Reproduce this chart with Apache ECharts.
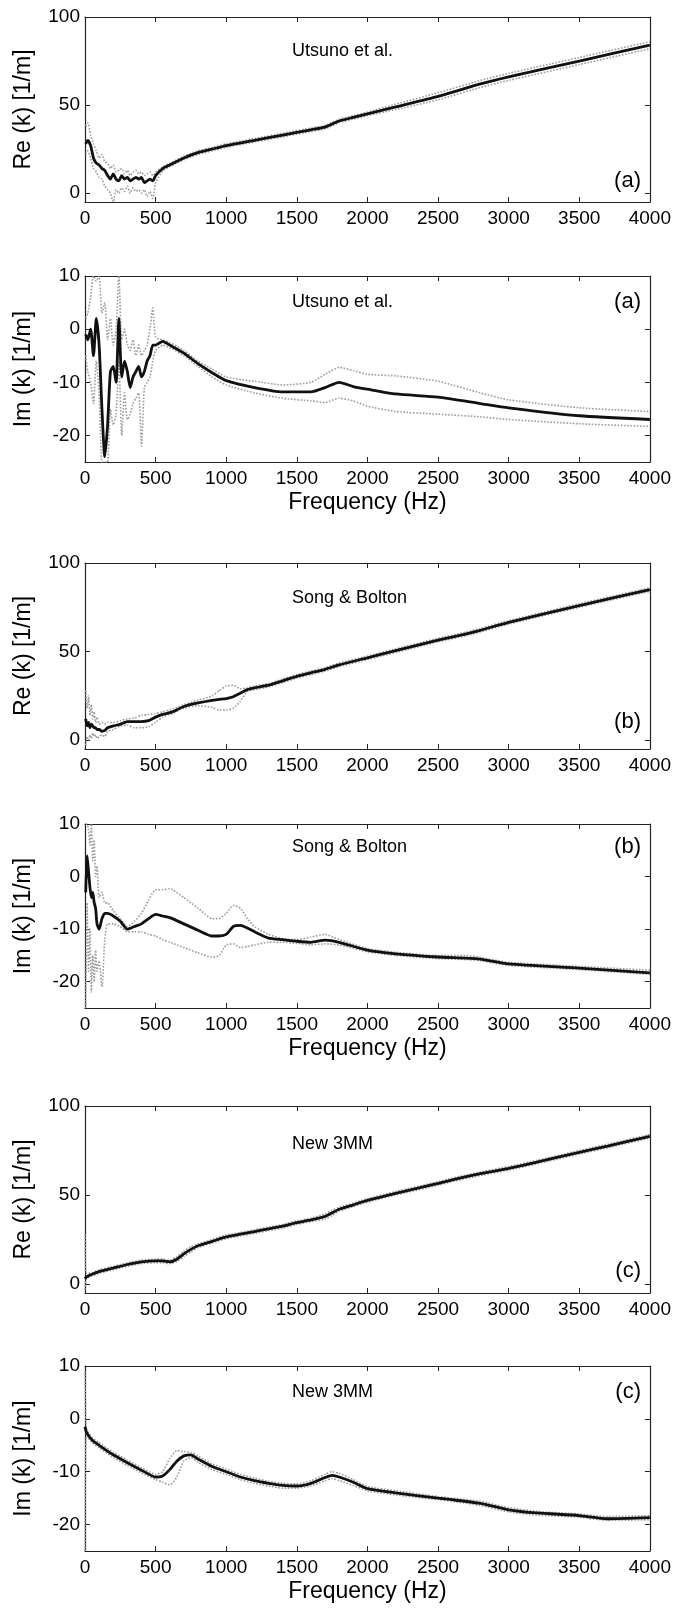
<!DOCTYPE html>
<html>
<head>
<meta charset="utf-8">
<script src="https://cdn.jsdelivr.net/npm/echarts@6.0.0/dist/echarts.min.js"></script>
<style>
html, body { margin: 0; padding: 0; background: #fff; }
#kChart { width: 674px; height: 1608px; }
</style>
</head>
<body>
<div id="kChart"></div>
<script>
// frequency grid (Hz) for each method
var fA = [5, 20, 40, 60, 80, 100, 120, 140, 160, 180, 200, 220, 240, 260, 280, 300, 320, 340, 360, 380, 400, 420, 440, 460, 480, 500, 550, 600, 700, 800, 900, 1000, 1200, 1400, 1600, 1700, 1800, 1900, 2000, 2200, 2500, 2800, 3000, 3500, 4000];
var fB = [5, 15, 25, 35, 45, 55, 65, 75, 85, 100, 120, 140, 160, 200, 250, 300, 350, 400, 450, 500, 550, 600, 620, 700, 800, 900, 950, 1000, 1050, 1100, 1150, 1200, 1300, 1400, 1500, 1600, 1700, 1800, 2000, 2200, 2500, 2700, 2800, 3000, 3500, 4000];
var fC = [0, 10, 50, 100, 200, 300, 400, 500, 550, 600, 650, 700, 750, 800, 900, 1000, 1100, 1200, 1300, 1400, 1500, 1600, 1700, 1750, 1800, 1900, 2000, 2200, 2500, 2600, 2800, 3000, 3200, 3500, 3700, 4000];

// (a) Utsuno et al.
var reA_mean = [28, 30, 27, 20, 17, 16, 14, 13, 10, 8, 11, 8, 7, 10, 8, 9, 7, 8, 9, 8, 9, 6, 7, 8, 7, 10, 14, 16, 20, 23, 25, 27, 30, 33, 36, 37.5, 41, 43, 45, 49, 55, 62, 66, 75, 84];
var reA_up = [38, 40, 33, 28, 24, 20, 22, 18, 17, 14, 16, 12, 13, 14, 11, 13, 10, 12, 13, 11, 12, 10, 11, 12, 10, 12, 15, 17, 21, 24, 26, 28, 31, 34, 37, 38.5, 42, 44, 46, 50.5, 57, 64, 68, 77, 86];
var reA_lo = [22, 24, 20, 14, 12, 9, 8, 4, 2, 0, -5, 2, 0, 3, 1, 4, 0, 3, 1, 2, 0, 2, -2, 1, -3, 6, 12.5, 15, 19, 22, 24, 26, 29, 32, 35, 36.5, 40, 42, 44, 47.5, 53, 60, 64, 73, 82];
var imA_mean = [-1, -2, 0, -5, 2, -3, -15, -24, -18, -8, -7, -10, 2, -9, -6, -8, -11, -9, -8, -7, -9, -8, -6, -5, -3, -3, -2.3, -3, -4.5, -6.5, -8.2, -9.7, -11, -11.8, -11.8, -11, -10, -10.8, -11.3, -12.2, -12.8, -14, -14.8, -16.3, -17];
var imA_up = [2, 3, 6, 10, 9, 10, 3, 5, -2, 2, -3, 0, 10, -2, 0, -3, -4, -2, -5, -3, -5, -4, -3, 0, 4, -1.5, -2, -2.5, -4, -6, -7.5, -9, -9.8, -10.5, -10, -8.5, -7.2, -7.8, -8.5, -8.8, -9.8, -12, -13.3, -14.8, -15.5];
var imA_lo = [-5, -8, -10, -14, -6, -12, -25, -25, -25, -15, -18, -16, -6, -20, -12, -17, -16, -14, -13, -12, -22, -11, -10, -9, -6, -4, -3, -3.5, -5, -7, -9, -10.5, -12, -13, -13.5, -13.8, -13, -13.5, -14.5, -15.5, -16, -16.5, -17, -17.8, -18.3];

// (b) Song & Bolton
var reB_mean = [12, 8, 10, 7, 9, 8, 7, 7, 6, 6, 5, 5.5, 7, 8, 9, 10.5, 10.5, 10.5, 11, 13, 14.5, 15.5, 16, 19, 21, 22.5, 23, 23.5, 24.5, 26.5, 28.5, 29.5, 31, 33.5, 36, 38, 40, 42.5, 46.5, 50.5, 56.5, 60, 62, 66.5, 76, 85];
var reB_up = [28, 18, 25, 14, 20, 12, 16, 10, 13, 9, 10, 9, 10, 10, 11, 12, 12.5, 14, 14.5, 15, 16, 17, 17.5, 20, 22.5, 25, 28, 30.5, 31, 29, 29.5, 30.5, 32, 34.5, 37, 39, 41, 43.5, 47.5, 51.5, 57.5, 61, 63, 67.5, 77, 86];
var reB_lo = [-3, 2, 0, 3, 1, 4, 2, 3, 1, 2, 3, 2, 5, 6, 8, 8.5, 7, 7, 7.5, 10, 13, 14.5, 15, 18, 19.5, 18.5, 17, 17, 18, 22, 27.5, 28.5, 30, 32.5, 35, 37, 39, 41.5, 45.5, 49.5, 55.5, 59, 61, 65.5, 75, 84];
var imB_mean = [-3, 4, 1, -2, -4, -3, -5, -6, -9, -10, -8, -7, -7, -7.5, -8.5, -10, -9.5, -9, -8, -7.2, -7.5, -7.8, -8, -9, -10.2, -11.3, -11.3, -11, -9.5, -9.3, -9.8, -10.5, -11.7, -12, -12.3, -12.5, -12.1, -12.5, -14, -14.7, -15.3, -15.5, -15.7, -16.6, -17.4, -18.3];
var imB_up = [10, 10, 9, 6, 10, 3, 7, 0, 2, -4, -3, -5, -5, -6.5, -8, -9.5, -8.5, -7, -4.5, -2.5, -2.5, -2.3, -2.5, -4, -6, -8, -8, -7, -5.5, -6, -8, -9.5, -11, -11.8, -12, -11.5, -11, -12, -13.7, -14.4, -15, -15, -15.4, -16.3, -17.1, -17.8];
var imB_lo = [-25, -5, -18, -10, -22, -15, -20, -14, -18, -16, -21, -12, -9, -9, -9.5, -10.5, -10.5, -10.5, -11, -11.3, -12, -12.5, -12.7, -13.5, -14.5, -15.3, -15, -13, -12.8, -13.5, -13.3, -13, -12.5, -12.5, -12.7, -13, -12.8, -13, -14.3, -15, -15.6, -15.8, -16, -16.9, -17.7, -18.6];

// (c) New 3MM
var reC_mean = [3, 4, 5.5, 7, 9, 11, 12.5, 13, 13, 12.5, 14, 17, 19.5, 21.5, 24, 26.5, 28, 29.5, 31, 32.5, 34.5, 36, 38, 40, 42, 44.5, 47, 51, 56.5, 58.5, 62, 65, 68.5, 74, 77.5, 83];
var reC_up = [28, 6, 6.5, 8, 10, 12, 13.5, 14, 14, 13.5, 15.5, 18.5, 21, 22.5, 25, 27.5, 29, 30.5, 32, 33.5, 35.5, 37, 39.5, 41.5, 43, 45.5, 48, 52, 57.5, 59.5, 63, 66, 69.5, 75, 78.5, 84];
var reC_lo = [-3, 3, 4.5, 6, 8, 10, 11.5, 12, 12, 11.5, 12.5, 15.5, 18, 20.5, 23, 25.5, 27, 28.5, 30, 31.5, 33.5, 35, 36.5, 38.5, 41, 43.5, 46, 50, 55.5, 57.5, 61, 64, 67.5, 73, 76.5, 82];
var imC_mean = [-1.5, -2.5, -4, -5, -6.8, -8.3, -9.7, -11, -10.8, -9.6, -8, -7, -6.8, -7.6, -9, -10, -11, -11.7, -12.2, -12.6, -12.7, -12.2, -11.1, -10.7, -11, -12, -13.2, -14, -15, -15.3, -16, -17.2, -17.8, -18.3, -18.9, -18.7];
var imC_up = [9, -1.8, -3.5, -4.5, -6.3, -7.8, -9.2, -10.5, -10, -7.5, -6, -6.2, -6.3, -7, -8.5, -9.5, -10.5, -11.2, -11.8, -12.2, -12.3, -11.7, -10.5, -10, -10.3, -11.5, -12.8, -13.6, -14.7, -15, -15.6, -16.8, -17.5, -18, -18.5, -18.3];
var imC_lo = [-25, -3.2, -4.5, -5.5, -7.3, -8.8, -10.2, -11.5, -12, -12.5, -11, -8, -7.3, -8.2, -9.6, -10.5, -11.5, -12.2, -12.7, -13.1, -13.1, -12.7, -11.7, -11.3, -11.7, -12.6, -13.6, -14.4, -15.3, -15.6, -16.4, -17.6, -18.2, -18.6, -19.2, -19.1];

var reTicks = [0, 50, 100];
var imTicks = [-20, -10, 0, 10];

var panels = [
    { kind: 're', f: fA, mean: reA_mean, up: reA_up, lo: reA_lo, title: 'Utsuno et al.', tag: '(a)', top: 17, h: 185, titleY: 52, tagY: 182 },
    { kind: 'im', f: fA, mean: imA_mean, up: imA_up, lo: imA_lo, title: 'Utsuno et al.', tag: '(a)', top: 276, h: 186, titleY: 303, tagY: 303 },
    { kind: 're', f: fB, mean: reB_mean, up: reB_up, lo: reB_lo, title: 'Song & Bolton', tag: '(b)', top: 563, h: 186, titleY: 599, tagY: 723 },
    { kind: 'im', f: fB, mean: imB_mean, up: imB_up, lo: imB_lo, title: 'Song & Bolton', tag: '(b)', top: 824, h: 184, titleY: 848, tagY: 848 },
    { kind: 're', f: fC, mean: reC_mean, up: reC_up, lo: reC_lo, title: 'New 3MM', tag: '(c)', top: 1106, h: 187, titleY: 1145, tagY: 1272 },
    { kind: 'im', f: fC, mean: imC_mean, up: imC_up, lo: imC_lo, title: 'New 3MM', tag: '(c)', top: 1366, h: 185, titleY: 1393, tagY: 1393 }
];

var FONT = 'Liberation Sans, Arial, sans-serif';
var chart = echarts.init(document.getElementById('kChart'));

function pairs(f, v) {
    var out = [];
    for (var i = 0; i < f.length; i++) out.push([f[i], v[i]]);
    return out;
}

function buildOption() {
    var grid = [], xAxis = [], yAxis = [], series = [], graphic = [];
    var line = { show: true, onZero: false, lineStyle: { color: '#222', width: 1.2 } };
    var tick = { show: true, inside: true, length: 5, lineStyle: { color: '#222', width: 1 } };

    panels.forEach(function (p, i) {
        var isRe = p.kind === 're';
        var yTicks = isRe ? reTicks : imTicks;
        var yMin = isRe ? -5 : -25, yMax = isRe ? 100 : 10;
        grid.push({ left: 85, width: 571, top: p.top, height: p.h });

        // bottom + mirrored top frequency axes
        xAxis.push({
            gridIndex: i, type: 'value', min: 0, max: 4000, interval: 500,
            axisLine: line, axisTick: tick, splitLine: { show: false },
            axisLabel: {
                color: '#000', fontSize: 19, fontFamily: FONT, margin: 7, showMinLabel: true, showMaxLabel: true,
                formatter: function (v) { return String(v); }
            },
            name: isRe ? '' : 'Frequency (Hz)', nameLocation: 'middle', nameGap: 29,
            nameTextStyle: { color: '#000', fontSize: 23, fontFamily: FONT }
        });
        xAxis.push({
            gridIndex: i, type: 'value', position: 'top', min: 0, max: 4000, interval: 500,
            axisLine: line, axisTick: tick, axisLabel: { show: false }, splitLine: { show: false }
        });

        // left + mirrored right value axes
        yAxis.push({
            gridIndex: i, type: 'value', min: yMin, max: yMax,
            axisLine: line,
            axisTick: { show: true, inside: true, length: 5, lineStyle: { color: '#222', width: 1 }, customValues: yTicks },
            axisLabel: { color: '#000', fontSize: 19, fontFamily: FONT, margin: 5, customValues: yTicks },
            splitLine: { show: false },
            name: isRe ? 'Re (k) [1/m]' : 'Im (k) [1/m]', nameLocation: 'middle', nameGap: 50, nameRotate: 90,
            nameTextStyle: { color: '#000', fontSize: 23, fontFamily: FONT }
        });
        yAxis.push({
            gridIndex: i, type: 'value', position: 'right', min: yMin, max: yMax,
            axisLine: line,
            axisTick: { show: true, inside: true, length: 5, lineStyle: { color: '#222', width: 1 }, customValues: yTicks },
            axisLabel: { show: false }, splitLine: { show: false }
        });

        var xi = i * 2, yi = i * 2;
        [p.up, p.lo].forEach(function (arr) {
            series.push({
                type: 'line', xAxisIndex: xi, yAxisIndex: yi, data: pairs(p.f, arr),
                showSymbol: false, silent: true, smooth: 0.2,
                lineStyle: { color: '#9c9c9c', width: 1.6, type: 'dotted' }
            });
        });
        series.push({
            type: 'line', xAxisIndex: xi, yAxisIndex: yi, data: pairs(p.f, p.mean),
            showSymbol: false, silent: true, smooth: 0.2,
            lineStyle: { color: '#111', width: 2.8 }
        });

        graphic.push({
            type: 'text', left: 292, top: p.titleY - 10,
            style: { text: p.title, fill: '#000', fontSize: 18, fontFamily: FONT }
        });
        graphic.push({
            type: 'text', right: 33, top: p.tagY - 12,
            style: { text: p.tag, fill: '#000', fontSize: 22, fontFamily: FONT }
        });
    });

    return {
        backgroundColor: '#fff',
        animation: false,
        grid: grid, xAxis: xAxis, yAxis: yAxis, series: series, graphic: graphic
    };
}

chart.setOption(buildOption());
window.addEventListener('resize', chart.resize);
</script>
</body>
</html>
